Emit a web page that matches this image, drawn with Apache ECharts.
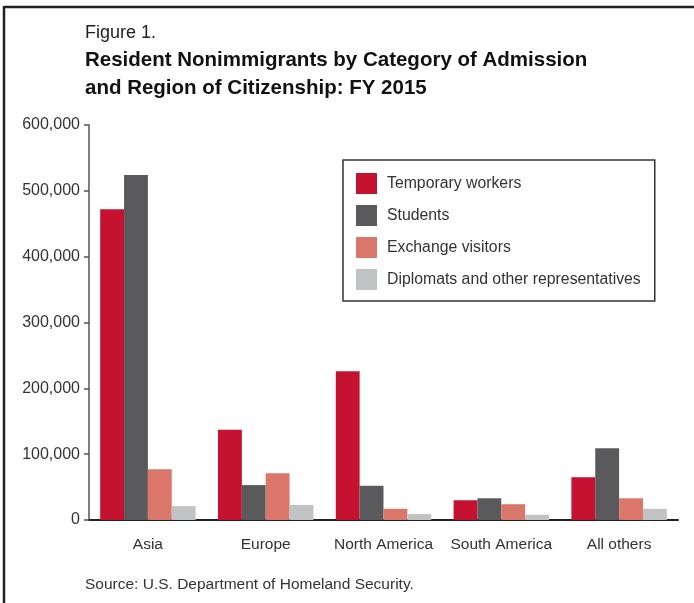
<!DOCTYPE html>
<html>
<head>
<meta charset="utf-8">
<script src="https://cdn.jsdelivr.net/npm/echarts@6/dist/echarts.min.js"></script>
<style>
html,body{margin:0;padding:0;background:#fff;}
#chart{width:694px;height:603px;}
</style>
</head>
<body>
<div id="chart"></div>
<script>
const categories = ['Asia', 'Europe', 'North America', 'South America', 'All others'];
const temporaryWorkers = [472000, 137000, 226000, 30000, 65000];
const students = [524000, 53000, 52000, 33000, 109000];
const exchangeVisitors = [77000, 71000, 17000, 24000, 33000];
const diplomats = [21000, 23000, 9000, 8000, 17000];
const seriesNames = ['Temporary workers', 'Students', 'Exchange visitors', 'Diplomats and other representatives'];
const yTicks = [0, 100000, 200000, 300000, 400000, 500000, 600000];

const colors = ['#C41230', '#5A5A5C', '#DB766A', '#C1C2C4'];
const FONT = '"Liberation Sans", Arial, sans-serif';

const chart = echarts.init(document.getElementById('chart'), null, {renderer: 'canvas'});
const dataArr = [temporaryWorkers, students, exchangeVisitors, diplomats];

chart.setOption({
  animation: false,
  backgroundColor: '#ffffff',
  color: colors,
  textStyle: {fontFamily: FONT},
  title: [
    {text: 'Figure 1.', left: 85, top: 24, padding: 0, textStyle: {fontFamily: FONT, fontSize: 18, fontWeight: 'normal', color: '#222'}},
    {text: 'Resident Nonimmigrants by Category of Admission', left: 85, top: 50, padding: 0, textStyle: {fontFamily: FONT, fontSize: 20.5, fontWeight: 'bold', color: '#111'}},
    {text: 'and Region of Citizenship: FY 2015', left: 85, top: 78, padding: 0, textStyle: {fontFamily: FONT, fontSize: 20.5, fontWeight: 'bold', color: '#111'}},
    {text: 'Source: U.S. Department of Homeland Security.', left: 85, top: 577, padding: 0, textStyle: {fontFamily: FONT, fontSize: 15.5, fontWeight: 'normal', color: '#333'}}
  ],
  legend: {
    orient: 'vertical',
    left: 343,
    top: 160,
    data: seriesNames,
    icon: 'rect',
    itemWidth: 21,
    itemHeight: 21,
    itemGap: 11,
    padding: [13, 14, 11, 13],
    borderColor: '#333',
    borderWidth: 1.5,
    borderRadius: 0,
    backgroundColor: '#fff',
    textStyle: {fontFamily: FONT, fontSize: 15.8, color: '#333', padding: [0, 0, 0, 5]}
  },
  grid: {left: 89, right: 16, top: 125, bottom: 83, containLabel: false},
  xAxis: {
    type: 'category',
    data: categories,
    axisLine: {show: true, lineStyle: {color: '#222', width: 2}},
    axisTick: {show: false},
    axisLabel: {fontFamily: FONT, fontSize: 15.5, color: '#333', margin: 17, interval: 0}
  },
  yAxis: {
    type: 'value',
    min: yTicks[0],
    max: yTicks[yTicks.length - 1],
    interval: yTicks[1] - yTicks[0],
    splitLine: {show: false},
    axisLine: {show: true, lineStyle: {color: '#555', width: 1.5}},
    axisTick: {show: true, length: 5, lineStyle: {color: '#555', width: 1.5}},
    axisLabel: {
      fontFamily: FONT, fontSize: 16, color: '#333', margin: 9,
      formatter: v => v.toLocaleString('en-US')
    }
  },
  series: seriesNames.map((name, i) => ({
    name: name,
    type: 'bar',
    data: dataArr[i],
    barGap: '0%',
    barCategoryGap: '19%',
    itemStyle: {color: colors[i]}
  })),
  graphic: [
    {type: 'line', shape: {x1: 4, y1: 7, x2: 694, y2: 7}, style: {stroke: '#222', lineWidth: 2.5}, silent: true},
    {type: 'line', shape: {x1: 4, y1: 6, x2: 4, y2: 603}, style: {stroke: '#222', lineWidth: 2.5}, silent: true}
  ]
});
</script>
</body>
</html>
